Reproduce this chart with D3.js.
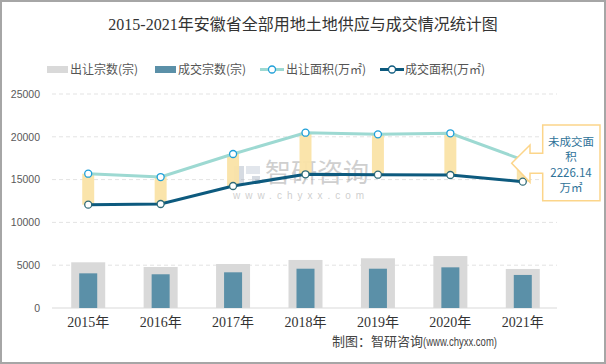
<!DOCTYPE html>
<html><head><meta charset="utf-8">
<script src="https://cdn.jsdelivr.net/npm/d3@7"></script>
<style>html,body{margin:0;padding:0;background:#fff}svg{display:block}</style>
</head><body>
<svg id="c" width="606" height="364"></svg>
<script>
const years = ["2015年","2016年","2017年","2018年","2019年","2020年","2021年"];
const supplyCount = [5340,4790,5140,5610,5810,6070,4560];
const dealCount = [4050,3940,4170,4590,4590,4750,3860];
const supplyArea = [15690,15300,17990,20480,20290,20410,17300];
const dealArea = [12070,12150,14250,15620,15570,15540,14760];
const yTicks = [0,5000,10000,15000,20000,25000];
const legendNames = ["出让宗数(宗)","成交宗数(宗)","出让面积(万㎡)","成交面积(万㎡)"];
const calloutLines = ["未成交面","积","2226.14","万㎡"];

const svg = d3.select("#c");
const sans = "'Noto Sans CJK SC','Liberation Sans',sans-serif";
const serif = "'Liberation Serif','Noto Sans CJK SC',serif";

svg.append("rect").attr("x",1).attr("y",1).attr("width",604).attr("height",362)
  .attr("fill","#fff").attr("stroke","#A6A6A6").attr("stroke-width",2);

svg.append("text").attr("x",303).attr("y",30).attr("text-anchor","middle")
  .attr("font-family",serif).attr("font-size",16).attr("fill","#333")
  .text("2015-2021年安徽省全部用地土地供应与成交情况统计图");

const x = d3.scaleBand().domain(years).range([52,559]);
const y = d3.scaleLinear().domain([0,25000]).range([308,94]);

// grid
svg.append("g").selectAll("line").data(yTicks.slice(1)).join("line")
  .attr("x1",52).attr("x2",557).attr("y1",d=>y(d)).attr("y2",d=>y(d))
  .attr("stroke","#E3E3E3").attr("stroke-dasharray","4,3");
svg.append("line").attr("x1",52).attr("x2",557).attr("y1",y(0)).attr("y2",y(0))
  .attr("stroke","#D9D9D9").attr("stroke-width",1);

// y axis labels
const yAxis = d3.axisLeft(y).tickValues(yTicks).tickFormat(d3.format("d")).tickSize(0).tickPadding(0);
const ga = svg.append("g").attr("transform","translate(40,0)").call(yAxis);
ga.select(".domain").remove();
ga.selectAll("text").attr("font-family","'Liberation Sans',sans-serif").attr("font-size",10.5).attr("fill","#595959");

// x labels
const xAxis = d3.axisBottom(x).tickSize(0).tickPadding(0);
const gx = svg.append("g").attr("transform","translate(0,314)").call(xAxis);
gx.select(".domain").remove();
gx.selectAll("text").attr("font-family",serif).attr("font-size",14).attr("fill","#333").attr("dy","0.9em");

// bars
const cx = d => x(d) + x.bandwidth()/2;
svg.append("g").selectAll("rect").data(years).join("rect")
  .attr("x",d=>cx(d)-17).attr("width",34)
  .attr("y",(d,i)=>y(supplyCount[i])).attr("height",(d,i)=>y(0)-y(supplyCount[i]))
  .attr("fill","#D9D9D9");
svg.append("g").selectAll("rect").data(years).join("rect")
  .attr("x",d=>cx(d)-9).attr("width",18)
  .attr("y",(d,i)=>y(dealCount[i])).attr("height",(d,i)=>y(0)-y(dealCount[i]))
  .attr("fill","#5B90A8");

// watermark
const wm = svg.append("g").attr("opacity",0.4);
wm.append("rect").attr("x",234).attr("y",166).attr("width",10).attr("height",18).attr("fill","#9AA6B8");
wm.append("rect").attr("x",246).attr("y",166).attr("width",14).attr("height",8).attr("fill","#B8C2D0");
wm.append("rect").attr("x",252).attr("y",176).attr("width",8).attr("height",8).attr("fill","#9AA6B8");
wm.append("text").attr("x",265).attr("y",182).attr("font-family",sans).attr("font-size",26).attr("fill","#888").text("智研咨询");
wm.append("text").attr("x",233).attr("y",199).attr("font-family","'Liberation Sans',sans-serif").attr("font-size",10)
  .attr("letter-spacing",5).attr("fill","#888").text("www.chyxx.com");

// yellow range bars
svg.append("g").selectAll("rect").data(years).join("rect")
  .attr("x",d=>cx(d)-6).attr("width",12)
  .attr("y",(d,i)=>y(supplyArea[i])).attr("height",(d,i)=>y(dealArea[i])-y(supplyArea[i]))
  .attr("fill","#FAE3A6").attr("opacity",0.95);

// lines
const line = d3.line().x(d=>cx(d[0])).y(d=>y(d[1]));
svg.append("path").datum(years.map((d,i)=>[d,supplyArea[i]])).attr("d",line)
  .attr("fill","none").attr("stroke","#9DD9D2").attr("stroke-width",3);
svg.append("path").datum(years.map((d,i)=>[d,dealArea[i]])).attr("d",line)
  .attr("fill","none").attr("stroke","#0D5A7E").attr("stroke-width",3);
svg.append("g").selectAll("circle").data(years).join("circle")
  .attr("cx",cx).attr("cy",(d,i)=>y(supplyArea[i])).attr("r",3.5)
  .attr("fill","#fff").attr("stroke","#1E9FD8").attr("stroke-width",1.3);
svg.append("g").selectAll("circle").data(years).join("circle")
  .attr("cx",cx).attr("cy",(d,i)=>y(dealArea[i])).attr("r",3.5)
  .attr("fill","#fff").attr("stroke","#2E6A78").attr("stroke-width",1.3);

// callout
const pts = [[542.7,125],[600,125],[600,200.7],[542.7,200.7],[542.7,173.3],[530,173.3],[530,182.3],[511.7,163.3],[530,145],[530,153.3],[542.7,153.3]];
svg.append("polygon").attr("points",pts.map(p=>p.join(",")).join(" "))
  .attr("fill","#fff").attr("stroke","#FCD58A").attr("stroke-width",1.5);
svg.append("g").selectAll("text").data(calloutLines).join("text")
  .attr("x",571).attr("y",(d,i)=>[146,161,177,192][i]).attr("text-anchor","middle")
  .attr("font-family",sans).attr("font-size",11.5).attr("fill","#2F7399").text(d=>d);

// legend
const lg = svg.append("g");
lg.append("rect").attr("x",47).attr("y",66).attr("width",21).attr("height",7).attr("fill","#D9D9D9");
lg.append("rect").attr("x",155).attr("y",66).attr("width",21).attr("height",7).attr("fill","#5B90A8");
lg.append("line").attr("x1",260).attr("x2",284).attr("y1",69.5).attr("y2",69.5).attr("stroke","#9DD9D2").attr("stroke-width",3);
lg.append("circle").attr("cx",272).attr("cy",69.5).attr("r",3.5).attr("fill","#fff").attr("stroke","#1E9FD8").attr("stroke-width",1.3);
lg.append("line").attr("x1",380).attr("x2",404).attr("y1",69.5).attr("y2",69.5).attr("stroke","#0D5A7E").attr("stroke-width",3);
lg.append("circle").attr("cx",392).attr("cy",69.5).attr("r",3.5).attr("fill","#fff").attr("stroke","#0D5A7E").attr("stroke-width",1.3);
lg.selectAll("text").data(legendNames).join("text")
  .attr("x",(d,i)=>[70,178,286,405][i]).attr("y",74)
  .attr("font-family",sans).attr("font-size",12).attr("fill","#555").text(d=>d);

// footer
svg.append("text").attr("x",332).attr("y",346).attr("font-family",sans).attr("font-size",13).attr("fill","#444").text("制图：智研咨询");
svg.append("text").attr("x",423).attr("y",346).attr("font-family","'Liberation Sans',sans-serif").attr("font-size",13)
  .attr("textLength",74).attr("lengthAdjust","spacingAndGlyphs").attr("fill","#444").text("(www.chyxx.com)");
</script>
</body></html>
